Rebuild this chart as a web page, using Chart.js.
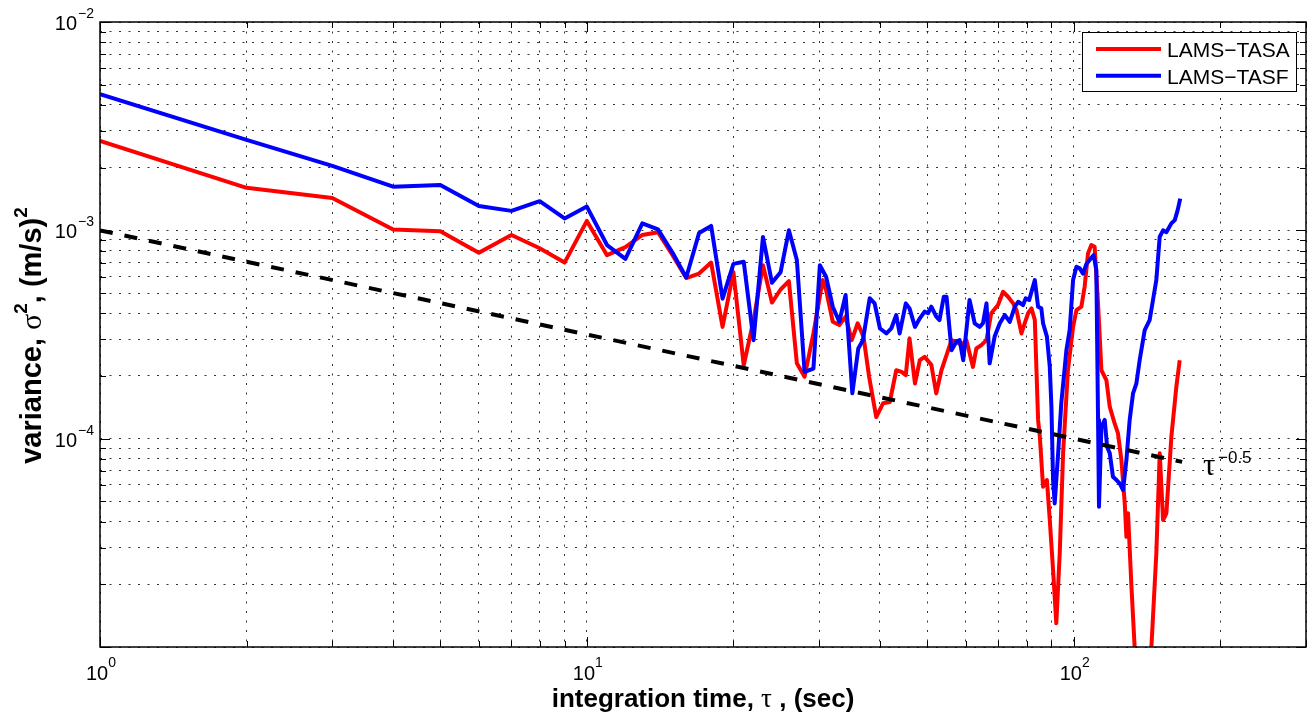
<!DOCTYPE html>
<html>
<head>
<meta charset="utf-8">
<script src="https://cdn.jsdelivr.net/npm/chart.js"></script>
<style>
  html, body { margin: 0; padding: 0; background: #fff; }
  canvas { display: block; }
</style>
</head>
<body>
<canvas id="chart" width="1312" height="717"></canvas>
<script>
// integration time tau (sec) and variance (m/s)^2
const tauA = [1, 2, 3, 4, 5, 6, 7, 8, 9, 10, 11, 12, 13, 14, 15, 16, 17, 18, 19, 20,
  21, 22, 23, 24, 25, 26, 27, 28, 29.2, 30.5, 31, 32, 33, 34, 35, 36, 37, 38, 39.3, 40.6,
  41.9, 43.2, 44.3, 45.2, 46, 47.2, 48.3, 49.4, 51, 52.2, 53.5, 54.8, 56.1, 57.4, 58.8, 60.2,
  62.1, 63.1, 64.6, 66.2, 67.7, 69.9, 71.6, 73.3, 75.1, 76.3, 78.1, 79.3, 80.6, 81.9,
  83.2, 84.5, 85.2, 86.5, 88.1, 89.3, 90.7, 92.1, 93.6, 95.1, 97.3, 99.7, 101.3, 103.7,
  105.3, 107, 108.7, 110.4, 112.2, 114, 116.7, 118.6, 121.4, 123.3, 125.3, 127.3, 128.3,
  129.3, 131.4, 133.4, 138.5, 144.4, 147.8, 150.2, 152.6, 155, 158.7, 162.5, 165.1];
const varA = [2.69e-3, 1.60e-3, 1.43e-3, 1.01e-3, 0.99e-3, 7.8e-4, 9.5e-4, 8.2e-4, 7.0e-4, 1.11e-3,
  7.6e-4, 8.3e-4, 9.5e-4, 9.8e-4, 7.6e-4, 5.9e-4, 6.2e-4, 7.0e-4, 3.44e-4, 6.3e-4,
  2.25e-4, 3.7e-4, 6.8e-4, 4.5e-4, 5.2e-4, 5.7e-4, 2.3e-4, 1.98e-4, 3.2e-4, 5.77e-4,
  5.17e-4, 3.64e-4, 3.51e-4, 3.85e-4, 2.97e-4, 3.58e-4, 3.09e-4, 1.98e-4, 1.27e-4, 1.48e-4,
  1.5e-4, 2.13e-4, 2.09e-4, 2.02e-4, 3.03e-4, 1.84e-4, 2.38e-4, 2.47e-4, 2.26e-4, 1.65e-4,
  2.13e-4, 2.52e-4, 2.97e-4, 2.92e-4, 2.81e-4, 2.97e-4, 2.21e-4, 2.71e-4, 2.81e-4, 2.97e-4,
  4.0e-4, 4.38e-4, 5.07e-4, 4.8e-4, 4.46e-4, 4.14e-4, 3.2e-4, 3.58e-4, 4.0e-4, 4.22e-4,
  3.71e-4, 1.23e-4, 1.02e-4, 5.88e-5, 6.33e-5, 4.07e-5, 2.34e-5, 1.30e-5, 2.81e-5, 8.5e-5,
  2.13e-4, 3.44e-4, 4.14e-4, 4.3e-4, 5.36e-4, 7.75e-4, 8.5e-4, 8.34e-4, 4.46e-4, 2.13e-4,
  1.91e-4, 1.42e-4, 1.18e-4, 1.06e-4, 7.89e-5, 4.89e-5, 3.38e-5, 4.38e-5, 1.95e-5, 1.0e-5,
  4e-6, 1.0e-5, 2.81e-5, 8.5e-5, 4.07e-5, 4.38e-5, 1.02e-4, 1.78e-4, 2.38e-4];

const tauF = [1, 2, 3, 4, 5, 6, 7, 8, 9, 10, 11, 12, 13, 14, 15, 16, 17, 18, 19, 20,
  21, 22, 23, 24, 25, 26, 27, 28, 29.2, 30.1, 31, 32, 33, 34, 35.1, 36.1, 36.9, 38.1, 39, 40,
  41.25, 42.2, 43.2, 43.9, 45.2, 46, 47.2, 48.3, 49.4, 50.2, 51, 52.2, 53, 54.1, 54.8, 56.1,
  57.4, 58.3, 59.3, 61.1, 62.6, 64.1, 65.1, 66.2, 67.2, 68.8, 70.5, 72.2, 73.9, 75.7,
  76.9, 78.7, 79.7, 81, 83.2, 84.5, 85.8, 86.5, 88.1, 89.3, 90, 90.7, 91.4, 92.9, 94.3,
  96.6, 98.1, 99.7, 101.3, 102.9, 104.5, 106.2, 107.8, 109.9, 111.3, 112.2, 112.7, 114,
  115.8, 117.1, 118.6, 120.4, 122.4, 124.3, 126.3, 128.3, 130.3, 132.4, 134.5, 136.6,
  139.9, 143.2, 145.5, 147.8, 150.2, 152.6, 155, 158.7, 161.3, 163.5, 165.5];
const varF = [4.5e-3, 2.72e-3, 2.04e-3, 1.62e-3, 1.65e-3, 1.31e-3, 1.24e-3, 1.38e-3, 1.14e-3, 1.30e-3,
  8.5e-4, 7.3e-4, 1.08e-3, 1.01e-3, 7.8e-4, 5.94e-4, 9.7e-4, 1.05e-3, 4.7e-4, 6.9e-4,
  7.06e-4, 2.97e-4, 9.3e-4, 5.6e-4, 6.3e-4, 1.0e-3, 7.2e-4, 2.09e-4, 2.17e-4, 6.8e-4,
  5.99e-4, 4.3e-4, 3.64e-4, 4.89e-4, 1.65e-4, 2.71e-4, 2.97e-4, 4.72e-4, 4.46e-4, 3.38e-4,
  3.2e-4, 3.38e-4, 3.92e-4, 3.2e-4, 4.46e-4, 4.22e-4, 3.44e-4, 3.78e-4, 4.07e-4, 4.0e-4,
  4.3e-4, 3.85e-4, 3.71e-4, 4.8e-4, 4.8e-4, 2.66e-4, 2.92e-4, 2.97e-4, 2.38e-4, 4.63e-4,
  3.58e-4, 3.44e-4, 3.58e-4, 4.46e-4, 2.3e-4, 3.09e-4, 3.58e-4, 3.92e-4, 3.64e-4, 4.3e-4,
  4.54e-4, 4.38e-4, 4.72e-4, 4.63e-4, 5.77e-4, 4.3e-4, 4.22e-4, 3.58e-4, 3.09e-4, 2.21e-4,
  1.42e-4, 6.33e-5, 4.89e-5, 8.5e-5, 1.48e-4, 2.66e-4, 3.32e-4, 5.77e-4, 6.69e-4, 6.57e-4,
  6.2e-4, 6.9e-4, 7.2e-4, 7.61e-4, 6.45e-4, 1.23e-4, 4.71e-5, 1.14e-4, 1.23e-4, 9.14e-5,
  8.5e-5, 6.56e-5, 6.33e-5, 6.1e-5, 5.67e-5, 7.89e-5, 1.23e-4, 1.65e-4, 1.84e-4, 2.38e-4,
  3.32e-4, 3.71e-4, 4.63e-4, 5.77e-4, 9.32e-4, 1.0e-3, 9.8e-4, 1.08e-3, 1.12e-3, 1.25e-3, 1.42e-3];

// tau^-0.5 reference slope
const tauRef = [1, 167];
const varRef = [1e-3, 7.74e-5];

const seriesLabels = ['LAMS\u2212TASA', 'LAMS\u2212TASF'];
const xDecades = [1, 10, 100];
const xExponents = ['0', '1', '2'];
const yDecades = [1e-4, 1e-3, 1e-2];
const yExponents = ['\u22124', '\u22123', '\u22122'];

// log grid: 1..9 in every decade
let xGrid = [];
[1, 10, 100].forEach(d => { for (let k = 1; k <= 9; k++) if (d * k <= 300) xGrid.push(d * k); });
let yGrid = [];
[1e-5, 1e-4, 1e-3].forEach(d => { for (let k = 1; k <= 9; k++) yGrid.push(d * k); });
yGrid.push(1e-2);

const pts = (xs, ys) => xs.map((t, i) => ({x: t, y: ys[i]}));
const isDecade = v => Math.abs(Math.log10(v) - Math.round(Math.log10(v))) < 1e-9;

const SANS = '"Liberation Sans", Arial, Helvetica, sans-serif';
const SERIF = '"Liberation Serif", "Times New Roman", serif';

// draw a run of text pieces, each with its own font and vertical shift
function drawRich(ctx, parts, x, y) {
  let w = 0;
  parts.forEach(p => { ctx.font = p.f; w += ctx.measureText(p.t).width; });
  let cx = x - w / 2;
  parts.forEach(p => {
    ctx.font = p.f;
    ctx.fillText(p.t, cx, y - (p.dy || 0));
    cx += ctx.measureText(p.t).width;
  });
}

const frame = {
  id: 'frame',
  afterDatasetsDraw(chart) {
    const {ctx, chartArea: a, scales: {x, y}} = chart;
    ctx.save();
    ctx.strokeStyle = '#000';
    ctx.lineWidth = 1;
    ctx.beginPath();
    xGrid.forEach(v => {
      const px = Math.round(x.getPixelForValue(v)) + 0.5;
      const len = isDecade(v) ? 10 : 6;
      ctx.moveTo(px, a.bottom); ctx.lineTo(px, a.bottom - len);
      ctx.moveTo(px, a.top); ctx.lineTo(px, a.top + len);
    });
    yGrid.forEach(v => {
      const py = Math.round(y.getPixelForValue(v)) + 0.5;
      const len = isDecade(v) ? 10 : 6;
      ctx.moveTo(a.left, py); ctx.lineTo(a.left + len, py);
      ctx.moveTo(a.right, py); ctx.lineTo(a.right - len, py);
    });
    ctx.stroke();

    // axes box
    ctx.lineWidth = 1.5;
    ctx.strokeRect(a.left, a.top, a.right - a.left, a.bottom - a.top);

    // tick labels 10^n
    ctx.fillStyle = '#000';
    ctx.textBaseline = 'alphabetic';
    ctx.textAlign = 'left';
    xDecades.forEach((v, i) => {
      const px = x.getPixelForValue(v);
      drawRich(ctx, [{t: '10', f: '20px ' + SANS}, {t: xExponents[i], f: '14px ' + SANS, dy: 13}], px + 1, a.bottom + 33);
    });
    yDecades.forEach((v, i) => {
      const py = y.getPixelForValue(v);
      ctx.textAlign = 'right';
      ctx.font = '14px ' + SANS;
      ctx.fillText(yExponents[i], a.left - 6, py - 4);
      const we = ctx.measureText(yExponents[i]).width;
      ctx.font = '20px ' + SANS;
      ctx.fillText('10', a.left - 7 - we, py + 8);
    });
    ctx.textAlign = 'left';

    // axis titles
    drawRich(ctx, [
      {t: 'integration time, ', f: 'bold 26px ' + SANS},
      {t: '\u03c4', f: '27px ' + SERIF},
      {t: ' , (sec)', f: 'bold 26px ' + SANS}
    ], (a.left + a.right) / 2, 707);

    ctx.save();
    ctx.translate(41, (a.top + a.bottom) / 2 + 1);
    ctx.rotate(-Math.PI / 2);
    drawRich(ctx, [
      {t: 'variance, ', f: 'bold 29px ' + SANS},
      {t: '\u03c3', f: '30px ' + SERIF},
      {t: '2', f: 'bold 19px ' + SANS, dy: 14},
      {t: ', (m/s)', f: 'bold 29px ' + SANS},
      {t: '2', f: 'bold 19px ' + SANS, dy: 14}
    ], 0, 0);
    ctx.restore();

    // tau^-0.5 note
    ctx.font = '31px ' + SERIF;
    ctx.fillText('\u03c4', 1203, 475);
    ctx.font = '17px ' + SANS;
    ctx.fillText('\u22120.5', 1218, 463);

    // legend
    const lx = 1082, ly = 32, lw = 214, lh = 59;
    ctx.fillStyle = '#fff';
    ctx.fillRect(lx, ly, lw, lh);
    ctx.lineWidth = 1;
    ctx.strokeStyle = '#000';
    ctx.strokeRect(lx + 0.5, ly + 0.5, lw, lh);
    chart.data.datasets.slice(0, 2).forEach((ds, i) => {
      const cy = 49 + i * 26.7;
      ctx.strokeStyle = ds.borderColor;
      ctx.lineWidth = 4;
      ctx.beginPath();
      ctx.moveTo(1096, cy); ctx.lineTo(1161, cy);
      ctx.stroke();
      ctx.fillStyle = '#000';
      ctx.font = '21px ' + SANS;
      ctx.fillText(ds.label, 1167, cy + 8);
    });
    ctx.restore();
  }
};

new Chart(document.getElementById('chart'), {
  type: 'line',
  data: {
    datasets: [
      {label: seriesLabels[0], data: pts(tauA, varA), borderColor: '#ff0000', borderWidth: 4, order: 3},
      {label: seriesLabels[1], data: pts(tauF, varF), borderColor: '#0000ff', borderWidth: 4, order: 2},
      {label: 'ref', data: pts(tauRef, varRef), borderColor: '#000', borderWidth: 4, borderDash: [13, 12], order: 1}
    ]
  },
  options: {
    responsive: false,
    animation: false,
    events: [],
    devicePixelRatio: 1,
    layout: {padding: {left: 0, top: 22, right: 6, bottom: 0}},
    datasets: {
      line: {pointRadius: 0, tension: 0, fill: false, clip: 0, borderJoinStyle: 'round', borderCapStyle: 'butt'}
    },
    plugins: {legend: {display: false}, tooltip: {enabled: false}},
    scales: {
      x: {
        type: 'logarithmic', min: 1, max: 300,
        afterBuildTicks: s => { s.ticks = xGrid.map(v => ({value: v})); },
        afterFit: s => { s.height = 70; },
        ticks: {display: false},
        grid: {color: 'rgba(0,0,0,0.8)', lineWidth: 1, drawTicks: false},
        border: {display: false, dash: [2, 7.5]}
      },
      y: {
        type: 'logarithmic', min: 1e-5, max: 1e-2,
        afterBuildTicks: s => { s.ticks = yGrid.map(v => ({value: v})); },
        afterFit: s => { s.width = 100; },
        ticks: {display: false},
        grid: {color: 'rgba(0,0,0,0.8)', lineWidth: 1, drawTicks: false},
        border: {display: false, dash: [2, 7.5]}
      }
    }
  },
  plugins: [frame]
});
</script>
</body>
</html>
